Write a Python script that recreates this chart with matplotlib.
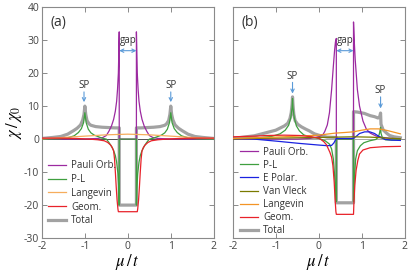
import matplotlib
matplotlib.use("Agg")
import matplotlib.pyplot as plt

plt.rcParams['font.family'] = ['Open Sans', 'DejaVu Sans']
plt.rcParams['mathtext.fontset'] = 'stix'
plt.rcParams['axes.unicode_minus'] = False

# ---- panel (a) data ----
a_pauli_mu = [-2.0, -1.0, -0.7, -0.58, -0.5, -0.44, -0.38, -0.33, -0.29, -0.26, -0.24, -0.22, -0.21, -0.2,
              -0.2, 0.2, 0.2, 0.21, 0.22, 0.24, 0.26, 0.29, 0.33, 0.38, 0.44, 0.5, 0.58, 0.7, 1.0, 2.0]
a_pauli = [0.0, 0.05, 0.2, 0.5, 1.1, 2.4, 4.0, 6.0, 8.5, 11.5, 15.0, 20.0, 26.0, 32.5,
           0.0, 0.0, 32.5, 26.0, 20.0, 15.0, 11.5, 8.5, 6.0, 4.0, 2.4, 1.1, 0.5, 0.2, 0.05, 0.0]

a_pl_mu = [-2.0, -1.6, -1.4, -1.25, -1.15, -1.08, -1.03, -1.0, -0.97, -0.92, -0.86, -0.78, -0.7, -0.6,
           -0.5, -0.44, -0.38, -0.33, -0.29, -0.26, -0.23, -0.21, -0.2, -0.2, 0.2, 0.2, 0.21, 0.23,
           0.26, 0.29, 0.33, 0.38, 0.44, 0.5, 0.6, 0.7, 0.78, 0.86, 0.92, 0.97, 1.0, 1.03, 1.08,
           1.15, 1.25, 1.4, 1.6, 2.0]
a_pl = [0.0, 0.1, 0.4, 1.0, 2.0, 3.2, 5.0, 8.0, 5.0, 3.0, 1.9, 1.2, 0.8, 0.3,
        0.0, -1.0, -2.2, -3.5, -5.0, -7.0, -10.5, -15.0, -20.0, 0.0, 0.0, -20.0, -15.0, -10.5,
        -7.0, -5.0, -3.5, -2.2, -1.0, 0.0, 0.3, 0.8, 1.2, 1.9, 3.0, 5.0, 8.0, 5.0, 3.2,
        2.0, 1.0, 0.4, 0.1, 0.0]

a_lang_mu = [-2.0, -1.5, -1.0, -0.5, 0.0, 0.5, 1.0, 1.5, 2.0]
a_lang = [0.1, 0.5, 0.9, 1.3, 1.5, 1.3, 0.9, 0.5, 0.2]

a_geom_mu = [-2.0, -1.6, -1.2, -0.9, -0.7, -0.55, -0.47, -0.4, -0.36, -0.33, -0.31, -0.29, -0.27, -0.25,
             -0.23, -0.22, 0.22, 0.23, 0.25, 0.27, 0.29, 0.31, 0.33, 0.36, 0.4, 0.47, 0.55, 0.7, 0.9,
             1.2, 1.6, 2.0]
a_geom = [0.3, 0.3, 0.2, 0.0, -0.2, -0.5, -1.0, -1.8, -2.6, -3.6, -6.0, -10.0, -14.5, -18.5,
          -21.2, -22.0, -22.0, -21.2, -18.5, -14.5, -10.0, -6.0, -3.6, -2.6, -1.8, -1.0, -0.5, -0.2, 0.0,
          0.2, 0.3, 0.3]

a_total_mu = [-2.0, -1.75, -1.56, -1.4, -1.26, -1.18, -1.1, -1.05, -1.02, -1.0, -0.98, -0.95, -0.9, -0.86,
              -0.75, -0.6, -0.45, -0.3, -0.2, -0.2, 0.2, 0.2, 0.3, 0.45, 0.6, 0.75, 0.86, 0.9, 0.95,
              0.98, 1.0, 1.02, 1.05, 1.1, 1.18, 1.26, 1.4, 1.56, 1.75, 2.0]
a_total = [0.2, 0.5, 0.8, 1.5, 2.6, 3.3, 4.3, 5.8, 7.5, 10.0, 7.5, 5.6, 4.6, 4.2,
           3.8, 3.6, 3.5, 3.4, 3.4, -20.0, -20.0, 3.4, 3.4, 3.5, 3.6, 3.8, 4.2, 4.6, 5.6,
           7.5, 10.0, 7.5, 5.8, 4.3, 3.3, 2.6, 1.5, 0.8, 0.5, 0.2]

# ---- panel (b) data ----
b_pauli_mu = [-2.0, -0.5, -0.2, 0.0, 0.1, 0.14, 0.2, 0.25, 0.3, 0.34, 0.37, 0.39, 0.41, 0.41, 0.81, 0.81,
              0.83, 0.85, 0.9, 0.95, 1.03, 1.11, 1.2, 1.34, 1.5, 1.7, 1.9]
b_pauli = [0.0, 0.0, 0.2, 0.7, 1.4, 2.3, 4.3, 8.0, 15.0, 22.0, 27.0, 29.5, 30.5, 0.0, 0.0, 35.5,
           29.0, 24.0, 15.0, 10.0, 5.5, 3.0, 1.8, 0.9, 0.5, 0.2, 0.1]

b_pl_mu = [-2.0, -1.5, -1.1, -0.9, -0.78, -0.7, -0.65, -0.62, -0.61, -0.6, -0.57, -0.52, -0.45, -0.35,
           -0.2, 0.0, 0.15, 0.25, 0.3, 0.34, 0.37, 0.39, 0.41, 0.41, 0.81, 0.81, 0.83, 0.86, 0.9, 0.97,
           1.05, 1.19, 1.33, 1.38, 1.41, 1.43, 1.44, 1.45, 1.48, 1.55, 1.7, 1.9]
b_pl = [0.1, 0.3, 0.8, 1.6, 2.7, 4.2, 6.5, 9.5, 12.3, 9.5, 6.5, 4.0, 2.5, 1.3,
        0.6, 0.2, -0.5, -1.5, -3.0, -6.0, -11.0, -15.0, -19.0, 0.0, 0.0, -19.0, -12.0, -6.0, -3.5, -2.0,
        -1.1, -0.5, -0.1, 0.5, 1.5, 2.8, 3.6, 1.8, 0.5, -0.2, -0.3, -0.2]

b_epol_mu = [-2.0, -1.5, -1.0, -0.45, 0.0, 0.2, 0.3, 0.35, 0.39, 0.41, 0.6, 0.8, 0.87, 0.95, 1.07, 1.19,
             1.3, 1.38, 1.44, 1.55, 1.7, 1.9]
b_epol = [0.2, 0.0, -0.6, -1.3, -1.8, -2.0, -1.9, -1.2, -0.3, 0.2, 0.2, 0.2, 0.8, 1.7, 2.2, 2.2,
          1.7, 1.0, 0.5, -0.1, -0.3, -0.4]

b_vv_mu = [-2.0, -1.0, 0.0, 0.4, 0.8, 1.2, 1.6, 1.9]
b_vv = [0.1, 0.3, 0.5, 0.6, 0.7, 0.6, 0.3, 0.1]

b_lang_mu = [-2.0, -1.5, -1.0, -0.5, 0.0, 0.37, 0.6, 0.8, 1.0, 1.2, 1.4, 1.6, 1.9]
b_lang = [0.2, 0.4, 0.6, 0.9, 1.2, 1.8, 2.0, 2.2, 2.7, 3.1, 3.1, 2.6, 1.6]

b_geom_mu = [-2.0, -1.5, -1.2, -0.8, -0.45, -0.2, 0.0, 0.06, 0.12, 0.18, 0.26, 0.3, 0.33, 0.36, 0.38,
             0.4, 0.41, 0.81, 0.82, 0.84, 0.87, 0.91, 0.95, 1.03, 1.2, 1.5, 1.9]
b_geom = [0.7, 0.9, 1.1, 1.2, 1.1, 0.8, 0.3, -0.2, -0.8, -1.7, -4.0, -5.5, -8.0, -13.0, -18.0,
          -22.0, -22.8, -22.8, -19.0, -14.0, -9.5, -6.5, -4.5, -3.3, -2.6, -2.3, -2.2]

b_total_mu = [-2.0, -1.5, -1.0, -0.8, -0.72, -0.67, -0.64, -0.62, -0.61, -0.6, -0.58, -0.55, -0.49, -0.4,
              -0.3, -0.22, -0.1, 0.05, 0.2, 0.41, 0.41, 0.81, 0.81, 0.9, 1.06, 1.2, 1.3, 1.38, 1.42,
              1.44, 1.45, 1.5, 1.58, 1.65, 1.75, 1.9]
b_total = [0.2, 1.0, 2.7, 4.0, 4.8, 6.2, 8.0, 10.5, 12.8, 10.5, 7.5, 5.6, 4.5, 3.7,
           3.0, 2.5, 1.6, 1.0, 0.6, 0.5, -19.3, -19.3, 8.3, 8.2, 7.8, 7.1, 6.8, 6.4, 6.8,
           7.9, 4.5, 2.8, 1.8, 1.1, 0.7, 0.4]

# colours
c_pauli = '#9c2aa0'
c_pl = '#3f9f3f'
c_epol = '#1a22e0'
c_vv = '#7a7a00'
c_lang_a = '#f6ad5c'
c_lang_b = '#f39425'
c_geom = '#e8222a'
c_total = '#a2a2a2'
c_arrow = '#5a9ad8'
c_frame = '#8a8a8a'

fig = plt.figure(figsize=(4.15, 2.74), dpi=100)
ax_a = fig.add_axes([0.101, 0.131, 0.414, 0.843])
ax_b = fig.add_axes([0.561, 0.131, 0.414, 0.843])

lw = 0.9

# panel (a)
ax_a.axhline(0, color='#333333', lw=0.6, zorder=1)
ax_a.plot(a_total_mu, a_total, color=c_total, lw=2.3, zorder=2, label='Total')
ax_a.plot(a_pauli_mu, a_pauli, color=c_pauli, lw=lw, zorder=3, label='Pauli Orb.')
ax_a.plot(a_pl_mu, a_pl, color=c_pl, lw=lw, zorder=3, label='P-L')
ax_a.plot(a_lang_mu, a_lang, color=c_lang_a, lw=lw, zorder=3, label='Langevin')
ax_a.plot(a_geom_mu, a_geom, color=c_geom, lw=lw, zorder=4, label='Geom.')

# panel (b)
ax_b.axhline(0, color='#999999', lw=0.6, zorder=1)
ax_b.plot(b_total_mu, b_total, color=c_total, lw=2.3, zorder=2, label='Total')
ax_b.plot(b_pauli_mu, b_pauli, color=c_pauli, lw=lw, zorder=3, label='Pauli Orb.')
ax_b.plot(b_pl_mu, b_pl, color=c_pl, lw=lw, zorder=3, label='P-L')
ax_b.plot(b_epol_mu, b_epol, color=c_epol, lw=lw, zorder=3, label='E Polar.')
ax_b.plot(b_vv_mu, b_vv, color=c_vv, lw=lw, zorder=3, label='Van Vleck')
ax_b.plot(b_lang_mu, b_lang, color=c_lang_b, lw=lw, zorder=3, label='Langevin')
ax_b.plot(b_geom_mu, b_geom, color=c_geom, lw=lw, zorder=4, label='Geom.')

for ax in (ax_a, ax_b):
    ax.set_xlim(-2, 2)
    ax.set_ylim(-30, 40)
    ax.set_xticks([-2, -1, 0, 1, 2])
    ax.set_yticks(range(-30, 41, 10))
    ax.tick_params(direction='in', top=True, right=True, length=3.5, width=0.7,
                   color=c_frame, labelcolor='#444444', labelsize=7.5, pad=2)
    for s in ax.spines.values():
        s.set_color(c_frame)
        s.set_linewidth(0.8)
    ax.set_xlabel(r'$\mu\,/\,t$', fontsize=12, labelpad=0)
ax_b.tick_params(labelleft=False)
ax_a.set_ylabel(r'$\chi\,/\,\chi_0$', fontsize=12, labelpad=0)

# legends
h, l = ax_a.get_legend_handles_labels()
order = ['Pauli Orb.', 'P-L', 'Langevin', 'Geom.', 'Total']
hs = [h[l.index(k)] for k in order]
ax_a.legend(hs, order, loc='upper left', bbox_to_anchor=(-0.01, 0.37), frameon=False,
            fontsize=7, handlelength=1.9, handletextpad=0.5, labelspacing=0.28,
            borderpad=0.3, labelcolor='#333333')
h, l = ax_b.get_legend_handles_labels()
order = ['Pauli Orb.', 'P-L', 'E Polar.', 'Van Vleck', 'Langevin', 'Geom.', 'Total']
hs = [h[l.index(k)] for k in order]
ax_b.legend(hs, order, loc='upper left', bbox_to_anchor=(-0.005, 0.43), frameon=False,
            fontsize=7, handlelength=1.9, handletextpad=0.5, labelspacing=0.22,
            borderpad=0.3, labelcolor='#333333')

# panel labels
ax_a.text(0.05, 0.935, '(a)', transform=ax_a.transAxes, fontsize=10, va='center', ha='left', color='#333333')
ax_b.text(0.05, 0.935, '(b)', transform=ax_b.transAxes, fontsize=10, va='center', ha='left', color='#333333')

# annotations
def gap(ax, x0, x1):
    ax.annotate('', xy=(x0, 26.8), xytext=(x1, 26.8),
                arrowprops=dict(arrowstyle='<->', color=c_arrow, lw=0.8, shrinkA=0, shrinkB=0,
                                mutation_scale=6))
    ax.text((x0 + x1) / 2, 30.0, 'gap', fontsize=7, ha='center', va='center', color='#333333')

def sp(ax, x, ytxt, y0, y1):
    ax.text(x, ytxt, 'SP', fontsize=7, ha='center', va='center', color='#333333')
    ax.annotate('', xy=(x, y1), xytext=(x, y0),
                arrowprops=dict(arrowstyle='->', color=c_arrow, lw=0.8, shrinkA=0, shrinkB=0,
                                mutation_scale=6))

gap(ax_a, -0.2, 0.2)
sp(ax_a, -1.02, 16.1, 14.3, 11.2)
sp(ax_a, 1.0, 16.1, 14.3, 11.2)
gap(ax_b, 0.41, 0.81)
sp(ax_b, -0.61, 18.9, 17.2, 13.8)
sp(ax_b, 1.44, 14.6, 12.8, 9.3)

fig.savefig('out.png', dpi=100)
